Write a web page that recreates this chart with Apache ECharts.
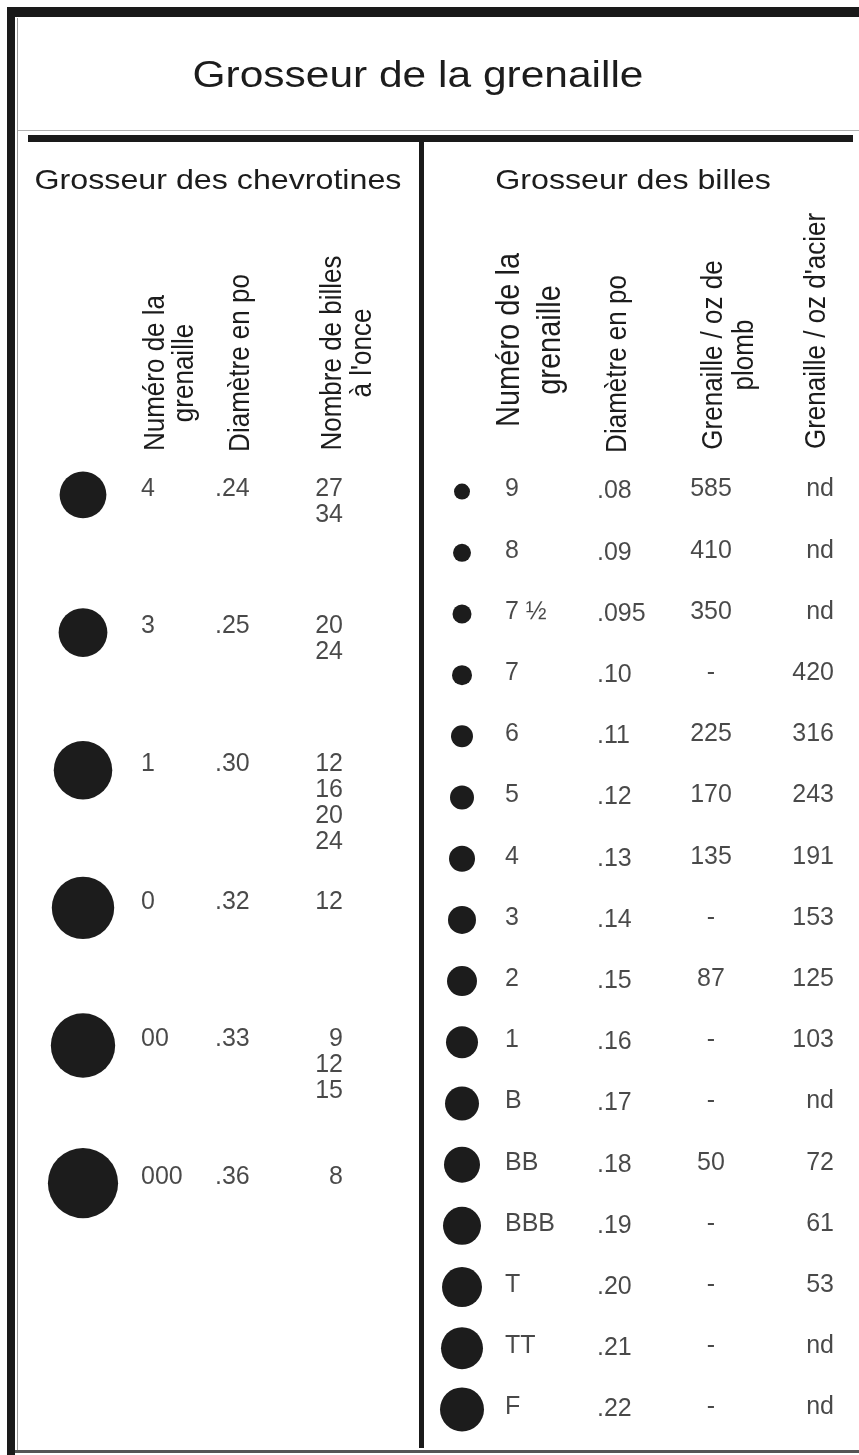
<!DOCTYPE html>
<html>
<head>
<meta charset="utf-8">
<title>Grosseur de la grenaille</title>
<script src="https://cdn.jsdelivr.net/npm/echarts@6/dist/echarts.min.js"></script>
<style>
html, body { margin: 0; padding: 0; background: #fff; }
#main { width: 859px; height: 1455px; }
</style>
</head>
<body>
<div id="main"></div>
<script>
// chevrotines (panneau de gauche)
const chevNumeros = ['4', '3', '1', '0', '00', '000'];
const chevDiametres = [0.24, 0.25, 0.30, 0.32, 0.33, 0.36];
const chevBilles = [[27, 34], [20, 24], [12, 16, 20, 24], [12], [9, 12, 15], [8]];

// billes (panneau de droite)
const billeNumeros = ['9', '8', '7 ½', '7', '6', '5', '4', '3', '2', '1', 'B', 'BB', 'BBB', 'T', 'TT', 'F'];
const billeDiametres = [0.08, 0.09, 0.095, 0.10, 0.11, 0.12, 0.13, 0.14, 0.15, 0.16, 0.17, 0.18, 0.19, 0.20, 0.21, 0.22];
const billePlomb = [585, 410, 350, null, 225, 170, 135, null, 87, null, null, 50, null, null, null, null];
const billeAcier = [null, null, null, 420, 316, 243, 191, 153, 125, 103, null, 72, 61, 53, null, null];

const chevColonnes = ['pastille', 'numero', 'diametre', 'billes'];
const billeColonnes = ['pastille', 'numero', 'diametre', 'plomb', 'acier'];

const police = "'Liberation Sans', Arial, sans-serif";
const encre = '#1c1c1c';

function fmtDiam(v) {
  const dec = Math.round(v * 1000) % 10 ? 3 : 2;
  return v.toFixed(dec).replace(/^0/, '');
}

// une colonne de texte = scatter sans symbole, juste l'étiquette
function colTexte(idx, col, textes, label) {
  return {
    type: 'scatter',
    xAxisIndex: idx,
    yAxisIndex: idx,
    symbolSize: 0,
    silent: true,
    data: textes.map((t, i) => [col, i]),
    label: Object.assign({
      show: true,
      position: 'inside',
      color: encre,
      fontSize: 25,
      fontFamily: police,
      verticalAlign: 'middle',
      formatter: p => textes[p.dataIndex]
    }, label)
  };
}

function colPastilles(idx, diametres, echelle) {
  return {
    type: 'scatter',
    xAxisIndex: idx,
    yAxisIndex: idx,
    silent: true,
    data: diametres.map((d, i) => ['pastille', i, d]),
    symbolSize: v => v[2] * echelle,
    itemStyle: { color: encre, opacity: 1 }
  };
}

function titre(x, y, texte, taille, sx) {
  return {
    type: 'text', x: x, y: y, scaleX: sx,
    style: {
      text: texte, fontSize: taille, fontFamily: police, fill: encre,
      align: 'center', verticalAlign: 'middle', textAlign: 'center', textVerticalAlign: 'middle'
    }
  };
}

function entete(x, y, texte, taille, interligne) {
  return {
    type: 'text', x: x, y: y, rotation: Math.PI / 2, scaleY: 1.15,
    style: {
      text: texte, fontSize: taille, fontFamily: police, fill: encre, lineHeight: interligne,
      align: 'center', verticalAlign: 'middle', textAlign: 'center', textVerticalAlign: 'middle'
    }
  };
}

function bloc(x, y, w, h, c) {
  return { type: 'rect', shape: { x: x, y: y, width: w, height: h }, style: { fill: c } };
}

const chart = echarts.init(document.getElementById('main'));

chart.setOption({
  backgroundColor: '#fff',
  animation: false,
  grid: [
    { left: 42, top: 426, width: 328, height: 826 },
    { left: 418, top: 461, width: 440, height: 979 }
  ],
  xAxis: [
    { gridIndex: 0, type: 'category', data: chevColonnes, show: false },
    { gridIndex: 1, type: 'category', data: billeColonnes, show: false }
  ],
  yAxis: [
    { gridIndex: 0, type: 'category', data: chevNumeros, inverse: true, show: false },
    { gridIndex: 1, type: 'category', data: billeNumeros, inverse: true, show: false }
  ],
  graphic: [
    // cadre
    bloc(7, 7, 852, 10, '#1a1a1a'),
    bloc(7, 7, 8, 1448, '#1a1a1a'),
    bloc(17, 18, 1, 1432, '#9a9a9a'),
    bloc(18, 130, 841, 1, '#b0b0b0'),
    bloc(28, 135, 825, 7, '#1a1a1a'),
    bloc(419, 142, 5, 1306, '#1a1a1a'),
    bloc(15, 1450, 844, 3, '#555'),
    // titres
    titre(418, 77, 'Grosseur de la grenaille', 36, 1.18),
    titre(218, 181, 'Grosseur des chevrotines', 28, 1.15),
    titre(633, 181, 'Grosseur des billes', 28, 1.15),
    // en-têtes de colonnes
    entete(170, 373, 'Numéro de la\ngrenaille', 26, 25),
    entete(241, 363, 'Diamètre en po', 26, 25),
    entete(348, 353, 'Nombre de billes\nà l\'once', 26, 26),
    entete(530, 340, 'Numéro de la\ngrenaille', 29, 36),
    entete(618, 364, 'Diamètre en po', 26, 25),
    entete(729, 355, 'Grenaille / oz de\nplomb', 26, 27),
    entete(817, 331, 'Grenaille / oz d\'acier', 26, 25)
  ],
  series: [
    colPastilles(0, chevDiametres, 195),
    colTexte(0, 'numero', chevNumeros, { align: 'left', offset: [-24, -6] }),
    colTexte(0, 'diametre', chevDiametres.map(fmtDiam), { align: 'left', offset: [-32, -6] }),
    colTexte(0, 'billes', chevBilles.map(b => b.join('\n')), { align: 'right', verticalAlign: 'top', lineHeight: 26, offset: [14, -19] }),

    colPastilles(1, billeDiametres, 200),
    colTexte(1, 'numero', billeNumeros, { align: 'left', offset: [-45, -2] }),
    colTexte(1, 'diametre', billeDiametres.map(fmtDiam), { align: 'left', offset: [-41, 0] }),
    colTexte(1, 'plomb', billePlomb.map(v => v == null ? '-' : String(v)), { align: 'center', offset: [-15, -2] }),
    colTexte(1, 'acier', billeAcier.map(v => v == null ? 'nd' : String(v)), { align: 'right', offset: [20, -2] })
  ]
});
</script>
</body>
</html>
